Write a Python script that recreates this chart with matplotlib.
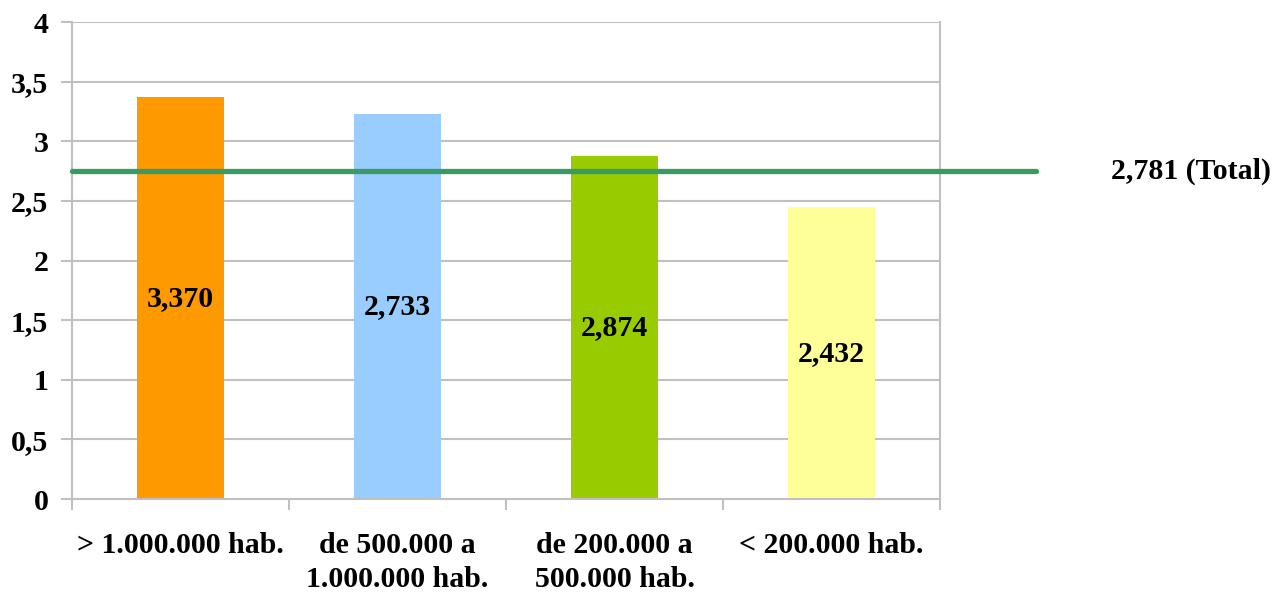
import matplotlib
matplotlib.use("Agg")
import matplotlib.pyplot as plt
import matplotlib.transforms as mtransforms

# data
categories = ["> 1.000.000 hab.", "de 500.000 a\n1.000.000 hab.",
              "de 200.000 a\n500.000 hab.", "< 200.000 hab."]
values = [3.37, 3.23, 2.876, 2.445]          # bar heights as drawn
bar_labels = ["3,370", "2,733", "2,874", "2,432"]  # labels as printed
bar_colors = ["#FF9900", "#99CCFF", "#99CC00", "#FFFF99"]
total_value = 2.75
total_label = "2,781 (Total)"
yticks = [0, 0.5, 1, 1.5, 2, 2.5, 3, 3.5, 4]
ytick_labels = ["0", "0,5", "1", "1,5", "2", "2,5", "3", "3,5", "4"]

plt.rcParams['font.family'] = ['Liberation Serif', 'DejaVu Serif']
plt.rcParams['font.weight'] = 'bold'
fs = 21.5

fig = plt.figure(figsize=(12.76, 5.93), dpi=100)
ax = fig.add_axes([0.0564, 0.1585, 0.6803, 0.8044])

grid_c = "#c0c0c0"
x = range(len(categories))
ax.bar(x, values, width=0.4, color=bar_colors, zorder=2)

for i, (v, lab) in enumerate(zip(values, bar_labels)):
    ax.text(i, v / 2, lab, ha='center', va='center', fontsize=fs,
            fontweight='bold', zorder=4)

# total line, runs past the plot area
ax.plot([-0.5, 3.94], [total_value, total_value], color="#3a9a64", lw=3.8,
        solid_capstyle='round', clip_on=False, zorder=3)
trans = mtransforms.blended_transform_factory(fig.transFigure, ax.transData)
ax.text(1271 / 1276, total_value, total_label, transform=trans,
        ha='right', va='center', fontsize=fs, fontweight='bold')

ax.set_xlim(-0.5, 3.5)
ax.set_ylim(0, 4)
ax.set_yticks(yticks)
ax.set_yticklabels(ytick_labels, fontsize=fs, fontweight='bold')
ax.set_xticks([0, 1, 2, 3])
ax.set_xticklabels(categories, fontsize=fs, fontweight='bold', linespacing=1.3)
ax.set_xticks([-0.5, 0.5, 1.5, 2.5, 3.5], minor=True)
ax.tick_params(axis='x', which='major', length=0, pad=24)
ax.tick_params(axis='x', which='minor', length=8, width=1.5, color=grid_c)
ax.tick_params(axis='y', length=8, width=1.5, color=grid_c, pad=9)

ax.yaxis.grid(True, color=grid_c, lw=1.5, zorder=0)
ax.set_axisbelow(True)
for side in ['left', 'right', 'bottom']:
    ax.spines[side].set_color(grid_c)
    ax.spines[side].set_linewidth(1.5)
ax.spines['top'].set_visible(False)

fig.savefig("out.png", dpi=100)
